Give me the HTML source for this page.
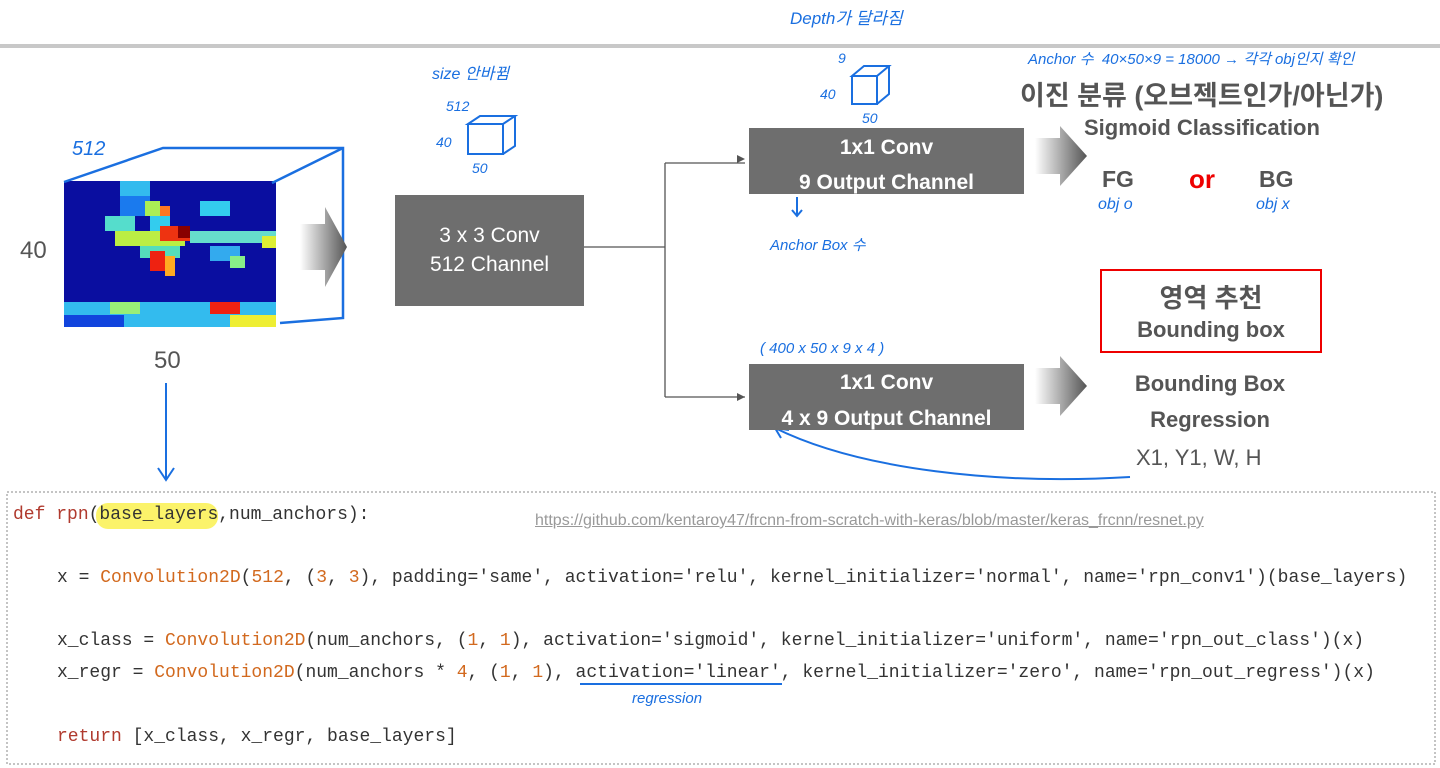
<!DOCTYPE html>
<html><head><meta charset="utf-8"><style>
body{margin:0;width:1440px;height:768px;background:#fff;overflow:hidden;position:relative;font-family:"Liberation Sans","Noto Sans CJK KR",sans-serif}
.a{position:absolute;white-space:nowrap}
.box{position:absolute;background:#6e6e6e;color:#fff;text-align:center;font-size:21px}
.hw{font-family:"Liberation Sans","Noto Sans CJK KR",sans-serif;color:#1a6fe0;font-style:italic}
.code{position:absolute;font-family:"Liberation Mono",monospace;font-size:18px;color:#333;white-space:pre}
.o{color:#d2691e}.k{color:#b03a2e}
</style></head><body>
<div style="position:absolute;left:0;top:44px;width:1440px;height:4px;background:#c8c8c8"></div>

<svg class="a" style="left:0;top:0" width="1440" height="768">
<defs><linearGradient id="g" x1="0" x2="1"><stop offset="0" stop-color="#fff"/><stop offset="1" stop-color="#555"/></linearGradient></defs>
<rect x="64" y="181" width="212" height="146" fill="#0a0ea0"/>
<g>
<rect x="120" y="181" width="30" height="15" fill="#33bbee"/>
<rect x="120" y="196" width="30" height="20" fill="#1a7aee"/>
<rect x="105" y="216" width="30" height="15" fill="#55ddcc"/>
<rect x="145" y="201" width="15" height="15" fill="#aaee55"/>
<rect x="160" y="206" width="10" height="15" fill="#ff7722"/>
<rect x="150" y="216" width="20" height="15" fill="#33ccee"/>
<rect x="200" y="201" width="30" height="15" fill="#33ccee"/>
<rect x="115" y="231" width="70" height="15" fill="#bbee44"/>
<rect x="160" y="226" width="30" height="15" fill="#ee3311"/>
<rect x="178" y="226" width="12" height="12" fill="#880000"/>
<rect x="190" y="231" width="86" height="12" fill="#66ddcc"/>
<rect x="262" y="236" width="14" height="12" fill="#ddee33"/>
<rect x="140" y="246" width="40" height="12" fill="#55ddbb"/>
<rect x="150" y="251" width="15" height="20" fill="#ee2211"/>
<rect x="165" y="256" width="10" height="20" fill="#ffaa22"/>
<rect x="210" y="246" width="30" height="15" fill="#33aaee"/>
<rect x="230" y="256" width="15" height="12" fill="#88ee88"/>
<rect x="64" y="302" width="212" height="25" fill="#33bbee"/>
<rect x="64" y="315" width="60" height="12" fill="#1144dd"/>
<rect x="210" y="302" width="30" height="12" fill="#ee2211"/>
<rect x="230" y="315" width="46" height="12" fill="#eeee33"/>
<rect x="110" y="302" width="30" height="12" fill="#99ee77"/>
</g>
<g fill="none" stroke="#1a6fe0" stroke-width="2.5">
<path d="M64 182 L163 148 L343 148 L343 318 L280 323"/><path d="M272 183 L343 148"/>
</g>
<path d="M300 224 h25 v-17 l22 40 -22 40 v-17 h-25z" fill="url(#g)"/>
<path d="M1035 138 h25 v-12 l27 30 -27 30 v-12 h-25z" fill="url(#g)"/>
<path d="M1035 368 h25 v-12 l27 30 -27 30 v-12 h-25z" fill="url(#g)"/>
<g fill="none" stroke="#555" stroke-width="1.3">
<path d="M584 247 H665 M665 163 V397 M665 163 H745 M665 397 H745"/>
</g>
<path d="M745 159 l-8 -4 v8z M745 397 l-8 -4 v8z" fill="#555"/>
<g fill="none" stroke="#1a6fe0" stroke-width="2">
<path d="M166 383 V478 M158 468 l8 12 8 -12"/>
<path d="M797 197 V215 M792 210 l5 6 5 -6"/>
<path d="M1130 477 C 1000 485 860 470 775 428 M775 428 l14 2 M775 428 l6 10"/>
<path d="M580 684 H782"/>
<path d="M468 124 l12 -8 h35 l-12 8z M468 124 v30 h35 v-30 M515 116 v30 l-12 8"/>
<path d="M852 76 l12 -10 h25 l-12 10z M852 76 v28 h25 v-28 M889 66 v28 l-12 10"/>
</g>
<rect x="1101" y="270" width="220" height="82" fill="none" stroke="#e00" stroke-width="2"/>
<rect x="7" y="492" width="1428" height="272" fill="none" stroke="#888" stroke-dasharray="2,2"/>
<rect x="96" y="503" width="122" height="26" rx="12" fill="#fbf36a"/>
</svg>

<div class="a" style="left:20px;top:237px;font-size:24px;color:#555">40</div>
<div class="a" style="left:154px;top:347px;font-size:24px;color:#555">50</div>
<div class="a hw" style="left:72px;top:138px;font-size:20px">512</div>

<div class="box" style="left:395px;top:195px;width:189px;height:111px;line-height:29px;padding-top:26px;box-sizing:border-box">3 x 3 Conv<br>512 Channel</div>
<div class="box" style="left:749px;top:128px;width:275px;height:66px;line-height:35px;padding-top:2px;box-sizing:border-box;font-weight:bold">1x1 Conv<br>9 Output Channel</div>
<div class="box" style="left:749px;top:364px;width:275px;height:66px;line-height:36px;padding-top:1px;box-sizing:border-box;font-weight:bold">1x1 Conv<br>4 x 9 Output Channel</div>

<div class="a hw" style="left:432px;top:60px;font-size:16px">size 안바뀜</div>
<div class="a hw" style="left:446px;top:98px;font-size:14px">512</div>
<div class="a hw" style="left:436px;top:134px;font-size:14px">40</div>
<div class="a hw" style="left:472px;top:160px;font-size:14px">50</div>
<div class="a hw" style="left:790px;top:4px;font-size:17px">Depth가 달라짐</div>
<div class="a hw" style="left:838px;top:50px;font-size:14px">9</div>
<div class="a hw" style="left:820px;top:86px;font-size:14px">40</div>
<div class="a hw" style="left:862px;top:110px;font-size:14px">50</div>
<div class="a hw" style="left:770px;top:234px;font-size:15px">Anchor Box 수</div>
<div class="a hw" style="left:760px;top:340px;font-size:15px">( 400 x 50 x 9 x 4 )</div>
<div class="a hw" style="left:1028px;top:48px;font-size:15px">Anchor 수 &nbsp;40×50×9 = 18000 → 각각 obj인지 확인</div>

<div class="a" style="left:1020px;top:74px;font-size:27px;color:#555;font-weight:bold">이진 분류 (오브젝트인가/아닌가)</div>
<div class="a" style="left:1084px;top:115px;font-size:22px;color:#555;font-weight:bold">Sigmoid Classification</div>
<div class="a" style="left:1102px;top:166px;font-size:23px;color:#555;font-weight:bold">FG</div>
<div class="a" style="left:1189px;top:164px;font-size:26px;color:#e00;font-weight:bold">or</div>
<div class="a" style="left:1259px;top:166px;font-size:23px;color:#555;font-weight:bold">BG</div>
<div class="a hw" style="left:1098px;top:196px;font-size:16px">obj o</div>
<div class="a hw" style="left:1256px;top:196px;font-size:16px">obj x</div>
<div class="a" style="left:1101px;top:278px;width:220px;text-align:center;font-size:26px;color:#555;font-weight:bold">영역 추천</div>
<div class="a" style="left:1101px;top:317px;width:220px;text-align:center;font-size:22px;color:#555;font-weight:bold">Bounding box</div>
<div class="a" style="left:1090px;top:366px;width:240px;text-align:center;font-size:22px;color:#555;font-weight:bold;line-height:36px">Bounding Box<br>Regression</div>
<div class="a" style="left:1136px;top:445px;font-size:22px;color:#555">X1, Y1, W, H</div>

<div class="a" style="left:535px;top:512px;font-size:16px;color:#999;text-decoration:underline">https://github.com/kentaroy47/frcnn-from-scratch-with-keras/blob/master/keras_frcnn/resnet.py</div>
<div class="code" style="left:13px;top:505px"><span class="k">def</span> <span class="k">rpn</span>(base_layers,num_anchors):</div>
<div class="code" style="left:57px;top:568px">x = <span class="o">Convolution2D</span>(<span class="o">512</span>, (<span class="o">3</span>, <span class="o">3</span>), padding='same', activation='relu', kernel_initializer='normal', name='rpn_conv1')(base_layers)</div>
<div class="code" style="left:57px;top:631px">x_class = <span class="o">Convolution2D</span>(num_anchors, (<span class="o">1</span>, <span class="o">1</span>), activation='sigmoid', kernel_initializer='uniform', name='rpn_out_class')(x)</div>
<div class="code" style="left:57px;top:663px">x_regr = <span class="o">Convolution2D</span>(num_anchors * <span class="o">4</span>, (<span class="o">1</span>, <span class="o">1</span>), activation='linear', kernel_initializer='zero', name='rpn_out_regress')(x)</div>
<div class="a hw" style="left:632px;top:690px;font-size:15px">regression</div>
<div class="code" style="left:57px;top:727px"><span class="k">return</span> [x_class, x_regr, base_layers]</div>
</body></html>
